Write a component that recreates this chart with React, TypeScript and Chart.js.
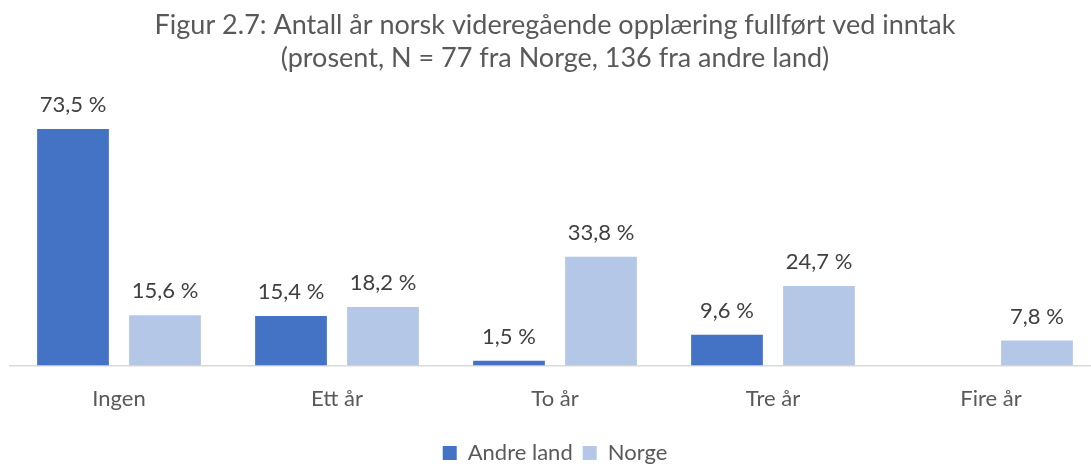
import React, { useEffect, useRef } from "react";
import { Chart, registerables } from "chart.js";

Chart.register(...registerables);

const categories = ["Ingen", "Ett år", "To år", "Tre år", "Fire år"];
const andreLand: (number | null)[] = [73.5, 15.4, 1.5, 9.6, null];
const norge: (number | null)[] = [15.6, 18.2, 33.8, 24.7, 7.8];
const titleLines = [
  "Figur 2.7: Antall år norsk videregående opplæring fullført ved inntak",
  "(prosent, N = 77 fra Norge, 136 fra andre land)",
];

const FONT = "Lato, 'Open Sans', sans-serif";
const TEXT = "#595959";

const labelPlugin = {
  id: "barLabels",
  afterDatasetsDraw(chart: any) {
    const ctx = chart.ctx;
    ctx.save();
    ctx.font = `22px ${FONT}`;
    ctx.fillStyle = "#404040";
    ctx.textAlign = "center";
    ctx.textBaseline = "middle";
    chart.data.datasets.forEach((ds: any, di: number) => {
      const meta = chart.getDatasetMeta(di);
      meta.data.forEach((bar: any, i: number) => {
        const v = ds.data[i];
        if (v === null || v === undefined) return;
        const txt = v.toFixed(1).replace(".", ",") + " %";
        ctx.fillText(txt, bar.x, bar.y - 24);
      });
    });
    ctx.restore();
  },
};

export default function App() {
  const ref = useRef<HTMLCanvasElement | null>(null);
  useEffect(() => {
    if (!ref.current) return;
    const chart = new Chart(ref.current, {
      type: "bar",
      data: {
        labels: categories,
        datasets: [
          {
            label: "Andre land",
            data: andreLand,
            backgroundColor: "#4472C4",
            categoryPercentage: 0.844,
            barPercentage: 0.78,
          },
          {
            label: "Norge",
            data: norge,
            backgroundColor: "#B4C7E7",
            categoryPercentage: 0.844,
            barPercentage: 0.78,
          },
        ],
      },
      options: {
        animation: false,
        responsive: false,
        maintainAspectRatio: false,
        layout: { padding: { left: 10, right: 8, top: 0, bottom: -10 } },
        plugins: {
          title: {
            display: true,
            text: titleLines,
            color: TEXT,
            font: { family: FONT, size: 27, weight: "normal", lineHeight: 1.22 },
            padding: { top: 8.5, bottom: 33.6 },
          },
          legend: {
            position: "bottom",
            labels: {
              color: TEXT,
              font: { family: FONT, size: 22 },
              boxWidth: 14,
              boxHeight: 14,
              padding: 10,
            },
          },
          tooltip: { enabled: false },
        },
        scales: {
          x: {
            grid: { display: false, drawTicks: false },
            border: { display: true, color: "#D9D9D9", width: 1.5 },
            ticks: { color: TEXT, font: { family: FONT, size: 22 }, padding: 20 },
          },
          y: {
            display: false,
            min: 0,
            max: 80,
          },
        },
      },
      plugins: [labelPlugin],
    });
    return () => chart.destroy();
  }, []);
  return (
    <div
      style={{
        position: "fixed",
        left: 0,
        top: 0,
        width: 1091,
        height: 464,
        overflow: "hidden",
        background: "#fff",
      }}
    >
      <canvas ref={ref} width={1108} height={464} style={{ width: 1108, height: 464 }} />
    </div>
  );
}
